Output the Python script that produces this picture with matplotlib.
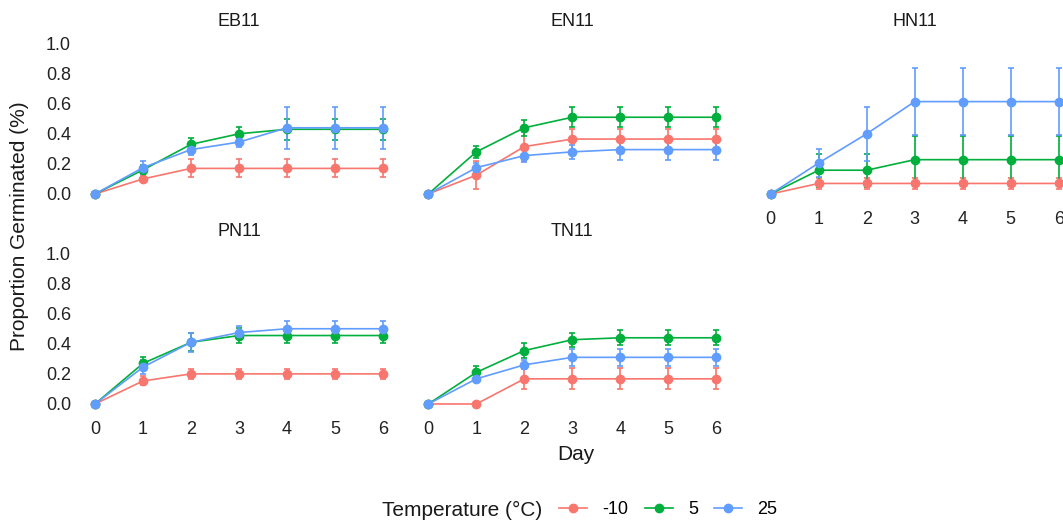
import matplotlib.pyplot as plt
from matplotlib.lines import Line2D

plt.rcParams['font.family'] = ['Liberation Sans', 'DejaVu Sans']

days = [0, 1, 2, 3, 4, 5, 6]
temps = ['-10', '5', '25']
colors = ['#F8766D', '#00AF3C', '#619CFF']
panels = ['EB11', 'EN11', 'HN11', 'PN11', 'TN11']

# mean proportion germinated per panel, per temperature (-10, 5, 25)
EB11_mean = [[0, 0.10, 0.17, 0.17, 0.17, 0.17, 0.17],
             [0, 0.16, 0.33, 0.40, 0.43, 0.43, 0.43],
             [0, 0.175, 0.295, 0.345, 0.44, 0.44, 0.44]]
EB11_se = [[0, 0.02, 0.06, 0.06, 0.06, 0.06, 0.06],
           [0, 0.03, 0.04, 0.045, 0.07, 0.07, 0.07],
           [0, 0.045, 0.035, 0.03, 0.14, 0.14, 0.14]]

EN11_mean = [[0, 0.125, 0.315, 0.365, 0.365, 0.365, 0.365],
             [0, 0.28, 0.44, 0.51, 0.51, 0.51, 0.51],
             [0, 0.175, 0.255, 0.28, 0.295, 0.295, 0.295]]
EN11_se = [[0, 0.095, 0.095, 0.07, 0.07, 0.07, 0.07],
           [0, 0.04, 0.055, 0.065, 0.065, 0.065, 0.065],
           [0, 0.03, 0.04, 0.045, 0.07, 0.07, 0.07]]

HN11_mean = [[0, 0.07, 0.07, 0.07, 0.07, 0.07, 0.07],
             [0, 0.158, 0.158, 0.228, 0.228, 0.228, 0.228],
             [0, 0.206, 0.40, 0.614, 0.614, 0.614, 0.614]]
HN11_se = [[0, 0.035, 0.035, 0.035, 0.035, 0.035, 0.035],
           [0, 0.11, 0.11, 0.16, 0.16, 0.16, 0.16],
           [0, 0.09, 0.18, 0.225, 0.225, 0.225, 0.225]]

PN11_mean = [[0, 0.153, 0.20, 0.20, 0.20, 0.20, 0.20],
             [0, 0.27, 0.41, 0.455, 0.455, 0.455, 0.455],
             [0, 0.245, 0.41, 0.475, 0.50, 0.50, 0.50]]
PN11_se = [[0, 0.03, 0.035, 0.035, 0.035, 0.035, 0.035],
           [0, 0.04, 0.06, 0.05, 0.05, 0.05, 0.05],
           [0, 0.045, 0.065, 0.04, 0.05, 0.05, 0.05]]

TN11_mean = [[0, 0.0, 0.167, 0.167, 0.167, 0.167, 0.167],
             [0, 0.21, 0.355, 0.427, 0.44, 0.44, 0.44],
             [0, 0.167, 0.26, 0.31, 0.31, 0.31, 0.31]]
TN11_se = [[0, 0, 0.07, 0.07, 0.07, 0.07, 0.07],
           [0, 0.04, 0.05, 0.045, 0.05, 0.05, 0.05],
           [0, 0.02, 0.03, 0.055, 0.055, 0.055, 0.055]]

means = [EB11_mean, EN11_mean, HN11_mean, PN11_mean, TN11_mean]
ses = [EB11_se, EN11_se, HN11_se, PN11_se, TN11_se]

W, H = 1063, 523
fig = plt.figure(figsize=(W / 100, H / 100), dpi=100)

# panel boxes in pixels: left, bottom (from top), width, height
lefts = [80.6, 413.9, 756.3, 80.6, 413.9]
bottoms = [201.5, 201.5, 201.5, 411.5, 411.5]
pw, ph = 316.8, 165.5

for i, name in enumerate(panels):
    ax = fig.add_axes([lefts[i] / W, (H - bottoms[i]) / H, pw / W, ph / H])
    for j in range(3):
        ax.errorbar(days, means[i][j], yerr=ses[i][j], color=colors[j],
                    marker='o', markersize=6, linewidth=1.2,
                    elinewidth=1.2, capsize=2.5, capthick=1.2)
    ax.set_xlim(-0.3, 6.3)
    ax.set_ylim(-0.05, 1.05)
    ax.set_xticks(days)
    ax.set_yticks([0, 0.2, 0.4, 0.6, 0.8, 1.0])
    ax.set_yticklabels(['0.0', '0.2', '0.4', '0.6', '0.8', '1.0'])
    for s in ax.spines.values():
        s.set_visible(False)
    ax.tick_params(length=0, labelsize=13, labelcolor='#222222', pad=7)
    if i in (1, 2, 4):
        ax.tick_params(labelleft=False)
    if i in (0, 1):
        ax.tick_params(labelbottom=False)
    ax.set_title(name, fontsize=13, color='#1a1a1a', pad=7)

fig.text(20 / W, 1 - 226 / H, 'Proportion Germinated (%)', rotation=90,
         ha='center', va='center', fontsize=15, color='#1a1a1a')
fig.text(576 / W, 1 - 455 / H, 'Day', ha='center', va='center',
         fontsize=15, color='#1a1a1a')

fig.text(462 / W, 1 - 510 / H, 'Temperature (°C)', ha='center', va='center',
         fontsize=15, color='#1a1a1a')
handles = [Line2D([0], [0], color=c, marker='o', markersize=6, linewidth=1.2)
           for c in colors]
fig.legend(handles, temps, loc='center left', bbox_to_anchor=(559 / W, 1 - 510 / H),
           ncol=3, frameon=False, fontsize=13, handlelength=1.55,
           columnspacing=0.9, handletextpad=0.85, borderpad=0, borderaxespad=0)

fig.savefig('out.png', dpi=100, facecolor='white')
